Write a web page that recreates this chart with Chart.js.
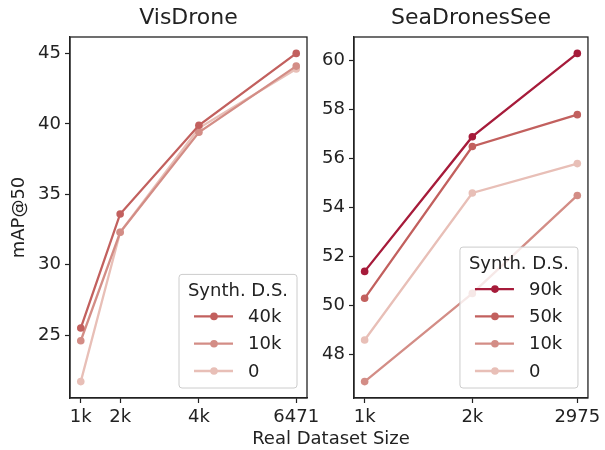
<!DOCTYPE html>
<html>
<head>
<meta charset="utf-8">
<script src="https://cdn.jsdelivr.net/npm/chart.js@4/dist/chart.umd.min.js"></script>
<style>
  body { margin: 0; background: #fff; }
  #wrap { position: relative; width: 605px; height: 450px; }
  canvas { position: absolute; left: 0; top: 0; }
  #xlabel { position: absolute; left: 211px; width: 240px; top: 427px; text-align: center;
            font: 18px 'DejaVu Sans'; color: #222; line-height: 22px; }
</style>
</head>
<body>
<div id="wrap">
  <canvas id="chart-vis" width="605" height="450"></canvas>
  <canvas id="chart-sea" width="605" height="450"></canvas>
  <div id="xlabel">Real Dataset Size</div>
</div>
<script>
// VisDrone
const visX = [1000, 2000, 4000, 6471];
const visTickLabels = ['1k', '2k', '4k', '6471'];
const visYTicks = [25, 30, 35, 40, 45];
const vis40k = [25.5, 33.6, 39.9, 45.0];
const vis10k = [24.6, 32.3, 39.4, 44.1];
const vis0 = [21.7, 32.3, 39.7, 43.9];

// SeaDronesSee
const seaX = [1000, 2000, 2975];
const seaTickLabels = ['1k', '2k', '2975'];
const seaYTicks = [48, 50, 52, 54, 56, 58, 60];
const sea90k = [51.4, 56.9, 60.3];
const sea50k = [50.3, 56.5, 57.8];
const sea10k = [46.9, 50.5, 54.5];
const sea0 = [48.6, 54.6, 55.8];

const C90 = '#a61b3a', C50 = '#c2605e', C10 = '#d38d86', C0 = '#e8bfb7';
const INK = '#222222';
const FONT = "'DejaVu Sans'";

Chart.defaults.font.family = FONT;
Chart.defaults.color = INK;

function series(label, xs, ys, color) {
    return {
        label: label,
        data: xs.map((x, i) => ({x: x, y: ys[i]})),
        borderColor: color,
        backgroundColor: color,
        borderWidth: 2.3,
        pointRadius: 3.8,
        pointBorderWidth: 0,
        pointBackgroundColor: color,
        tension: 0
    };
}

// box round the plot + legend inside bottom right
const framePlugin = {
    id: 'frame',
    afterDraw(chart) {
        const ctx = chart.ctx;
        const a = chart.chartArea;
        ctx.save();
        ctx.strokeStyle = INK;
        ctx.lineWidth = 1.3;
        ctx.strokeRect(a.left, a.top, a.right - a.left, a.bottom - a.top);

        const sets = chart.data.datasets;
        const n = sets.length;
        const w = 118;
        const h = 59 + 27.3 * (n - 1);
        const x0 = a.right - 10 - w;
        const y0 = a.bottom - 10 - h;
        ctx.beginPath();
        ctx.roundRect(x0, y0, w, h, 3);
        ctx.fillStyle = 'rgba(255,255,255,0.8)';
        ctx.fill();
        ctx.strokeStyle = '#cccccc';
        ctx.lineWidth = 1;
        ctx.stroke();

        ctx.fillStyle = INK;
        ctx.font = '18px ' + FONT;
        ctx.textBaseline = 'middle';
        ctx.textAlign = 'center';
        ctx.fillText('Synth. D.S.', x0 + w / 2, y0 + 17);
        ctx.textAlign = 'left';
        sets.forEach((d, i) => {
            const y = y0 + 42 + 27.3 * i;
            ctx.strokeStyle = d.borderColor;
            ctx.lineWidth = 2.3;
            ctx.beginPath();
            ctx.moveTo(x0 + 15, y);
            ctx.lineTo(x0 + 54, y);
            ctx.stroke();
            ctx.fillStyle = d.borderColor;
            ctx.beginPath();
            ctx.arc(x0 + 35, y, 3.8, 0, Math.PI * 2);
            ctx.fill();
            ctx.fillStyle = INK;
            ctx.fillText(d.label, x0 + 69, y + 1);
        });
        ctx.restore();
    }
};

function makeChart(id, opts) {
    const ctx = document.getElementById(id).getContext('2d');
    return new Chart(ctx, {
        type: 'line',
        data: { datasets: opts.datasets },
        plugins: [framePlugin],
        options: {
            responsive: false,
            animation: false,
            layout: { padding: opts.padding },
            plugins: {
                legend: { display: false },
                tooltip: { enabled: false },
                title: {
                    display: true,
                    text: opts.title,
                    fullSize: false,
                    color: INK,
                    font: { size: 22, weight: 'normal' },
                    padding: { top: 5.1, bottom: 5.5 }
                }
            },
            scales: {
                x: {
                    type: 'linear',
                    min: opts.xMin,
                    max: opts.xMax,
                    afterBuildTicks: s => { s.ticks = opts.xs.map(v => ({value: v})); },
                    afterFit: s => { s.height = 52; },
                    ticks: {
                        autoSkip: false,
                        maxRotation: 0,
                        padding: 4,
                        font: { size: 18 },
                        callback: (v, i) => opts.xLabels[i]
                    },
                    grid: { drawOnChartArea: false, drawTicks: true, tickLength: 5, tickColor: INK, tickWidth: 1.2 },
                    border: { display: true, color: INK, width: 1.3 }
                },
                y: {
                    min: opts.yMin,
                    max: opts.yMax,
                    afterBuildTicks: s => { s.ticks = opts.yTicks.map(v => ({value: v})); },
                    afterFit: s => { s.width = opts.yWidth; },
                    ticks: {
                        padding: 4,
                        font: { size: 18 },
                        callback: v => String(v)
                    },
                    title: {
                        display: opts.yTitle !== '',
                        text: opts.yTitle,
                        font: { size: 18 },
                        padding: { top: 9, bottom: 0 }
                    },
                    grid: { drawOnChartArea: false, drawTicks: true, tickLength: 5, tickColor: INK, tickWidth: 1.2 },
                    border: { display: true, color: INK, width: 1.3 }
                }
            }
        }
    });
}

makeChart('chart-vis', {
    title: 'VisDrone',
    datasets: [
        series('40k', visX, vis40k, C50),
        series('10k', visX, vis10k, C10),
        series('0', visX, vis0, C0)
    ],
    padding: { left: 0, right: 298, top: 0, bottom: 0 },
    xs: visX, xLabels: visTickLabels,
    xMin: 726.5, xMax: 6744.5,
    yMin: 20.535, yMax: 46.165,
    yTicks: visYTicks,
    yWidth: 70,
    yTitle: 'mAP@50'
});

makeChart('chart-sea', {
    title: 'SeaDronesSee',
    datasets: [
        series('90k', seaX, sea90k, C90),
        series('50k', seaX, sea50k, C50),
        series('10k', seaX, sea10k, C10),
        series('0', seaX, sea0, C0)
    ],
    padding: { left: 314, right: 15, top: 0, bottom: 0 },
    xs: seaX, xLabels: seaTickLabels,
    xMin: 901.25, xMax: 3073.75,
    yMin: 46.23, yMax: 60.97,
    yTicks: seaYTicks,
    yWidth: 40,
    yTitle: ''
});
</script>
</body>
</html>
